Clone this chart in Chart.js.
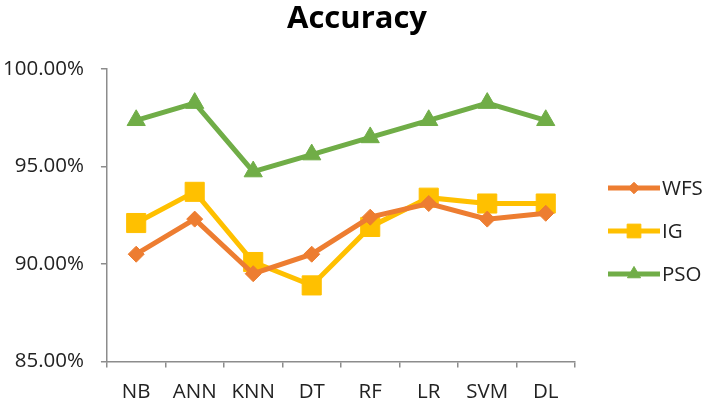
<!DOCTYPE html>
<html>
<head>
<meta charset="utf-8">
<script src="https://cdn.jsdelivr.net/npm/chart.js@4.4.1/dist/chart.umd.min.js"></script>
<style>
  html, body { margin: 0; padding: 0; background: #fff; }
  #wrap { width: 708px; height: 403px; }
</style>
</head>
<body>
<div id="wrap"><canvas id="accChart" width="708" height="403"></canvas></div>
<script>
const categories = ['NB', 'ANN', 'KNN', 'DT', 'RF', 'LR', 'SVM', 'DL'];
const wfsValues = [90.5, 92.3, 89.5, 90.5, 92.4, 93.1, 92.3, 92.6];
const igValues  = [92.1, 93.7, 90.1, 88.9, 91.9, 93.4, 93.1, 93.1];
const psoValues = [97.37, 98.25, 94.74, 95.61, 96.49, 97.37, 98.25, 97.37];
const yTicks = [85, 90, 95, 100];

const FONT = "'Open Sans', 'Liberation Sans', sans-serif";
const AXIS = '#8c8c8c';
const TEXT = '#222';

// title centred on the whole canvas, legend drawn as line + marker
const titleAndLegend = {
    id: 'titleAndLegend',
    afterDraw(chart) {
        const ctx = chart.ctx;
        const area = chart.chartArea;

        ctx.save();
        ctx.fillStyle = '#000';
        ctx.font = 'bold 31px ' + FONT;
        ctx.textAlign = 'center';
        ctx.textBaseline = 'alphabetic';
        ctx.fillText('Accuracy', chart.width / 2 + 3, 28);
        ctx.restore();

        const x0 = area.right + 33;
        chart.data.datasets.forEach((ds, i) => {
            const y = area.top + 119 + i * 43;
            ctx.save();
            ctx.strokeStyle = ds.borderColor;
            ctx.lineWidth = 5;
            ctx.beginPath();
            ctx.moveTo(x0, y);
            ctx.lineTo(x0 + 52, y);
            ctx.stroke();
            ctx.fillStyle = ds.pointBackgroundColor;
            ctx.strokeStyle = ds.borderColor;
            ctx.lineWidth = 1;
            // legend markers are a bit smaller than the ones on the lines
            Chart.helpers.drawPoint(ctx, {
                pointStyle: ds.pointStyle,
                radius: ds.pointRadius * 0.72,
                borderWidth: 1,
                rotation: 0
            }, x0 + 26, y);
            ctx.fillStyle = TEXT;
            ctx.font = '20.5px ' + FONT;
            ctx.textBaseline = 'middle';
            ctx.fillText(ds.label, x0 + 54, y + 1);
            ctx.restore();
        });
    }
};

function series(label, data, color, style, radius) {
    return {
        label: label,
        data: data,
        borderColor: color,
        backgroundColor: color,
        pointBackgroundColor: color,
        pointBorderColor: color,
        pointBorderWidth: 1,
        pointStyle: style,
        pointRadius: radius,
        pointHoverRadius: radius,
        borderWidth: 5,
        tension: 0,
        fill: false
    };
}

const ctx = document.getElementById('accChart').getContext('2d');
new Chart(ctx, {
    type: 'line',
    data: {
        labels: categories,
        datasets: [
            series('WFS', wfsValues, '#ED7D31', 'rectRot', 8),
            series('IG', igValues, '#FFC000', 'rect', 13.5),
            series('PSO', psoValues, '#70AD47', 'triangle', 10.5)
        ]
    },
    plugins: [titleAndLegend],
    options: {
        responsive: false,
        animation: false,
        layout: { padding: { left: 3, right: 133, top: 69, bottom: 0 } },
        plugins: {
            legend: { display: false },
            tooltip: { enabled: false },
            title: { display: false }
        },
        scales: {
            x: {
                offset: true,
                // chart.js counts the tick padding twice; keep it once
                afterFit: (axis) => { axis.height -= axis.options.ticks.padding; },
                grid: {
                    offset: true,
                    drawOnChartArea: false,
                    drawTicks: true,
                    tickLength: 6,
                    color: AXIS,
                    lineWidth: 1.5
                },
                border: { display: true, color: AXIS, width: 1.5 },
                ticks: {
                    color: TEXT,
                    font: { family: FONT, size: 20.5, lineHeight: 1.1 },
                    padding: 13,
                    maxRotation: 0
                }
            },
            y: {
                min: 85,
                max: 100,
                afterBuildTicks: (axis) => {
                    axis.ticks = yTicks.map(v => ({ value: v }));
                },
                afterFit: (axis) => { axis.width -= axis.options.ticks.padding; },
                grid: {
                    drawOnChartArea: false,
                    drawTicks: true,
                    tickLength: 6,
                    color: AXIS,
                    lineWidth: 1.5
                },
                border: { display: true, color: AXIS, width: 1.5 },
                ticks: {
                    color: TEXT,
                    font: { family: FONT, size: 20.5 },
                    padding: 17,
                    callback: (v) => Number(v).toFixed(2) + '%'
                }
            }
        }
    }
});
</script>
</body>
</html>
